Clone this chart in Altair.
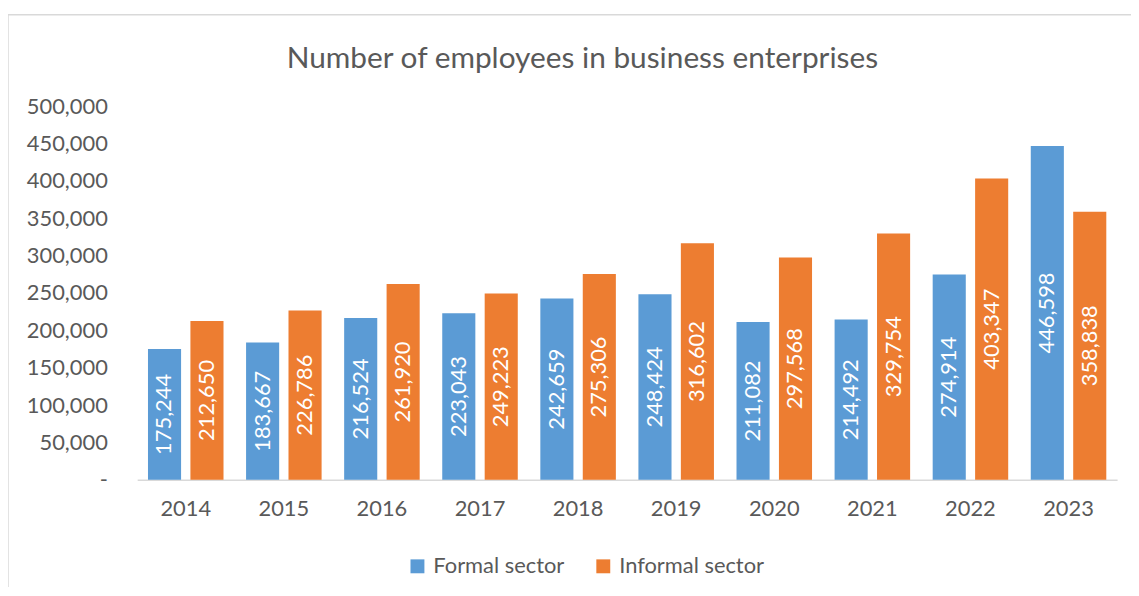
import altair as alt
import pandas as pd

years = [str(y) for y in range(2014, 2024)]
formal = [175244, 183667, 216524, 223043, 242659, 248424, 211082, 214492, 274914, 446598]
informal = [212650, 226786, 261920, 249223, 275306, 316602, 297568, 329754, 403347, 358838]
sectors = ["Formal sector", "Informal sector"]
colors = ["#5B9BD5", "#ED7D31"]
y_ticks = list(range(0, 500001, 50000))

rows = []
for y, f, i in zip(years, formal, informal):
    rows.append({"year": y, "sector": sectors[0], "value": f})
    rows.append({"year": y, "sector": sectors[1], "value": i})
df = pd.DataFrame(rows)

FONT = "Lato"
GREY = "#595959"
FS = 22

y_axis = alt.Axis(
    title=None, values=y_ticks, grid=False, domain=False, ticks=False, tickSize=0,
    labelPadding=30, labelFontSize=FS, labelColor=GREY, labelFont=FONT,
    labelOverlap=False,
    labelExpr="datum.value == 0 ? '-' : format(datum.value, ',')",
)
y_scale = alt.Scale(domain=[0, 500000], nice=False)

base = alt.Chart(df).encode(
    x=alt.X(
        "year:N",
        scale=alt.Scale(paddingInner=0.23, paddingOuter=0.11),
        axis=alt.Axis(
            title=None, labelAngle=0, ticks=False, tickSize=0,
            domainColor="#d9d9d9", domainWidth=1.5, labelPadding=19,
            labelFontSize=FS, labelColor=GREY, labelFont=FONT, labelBaseline="top",
        ),
    ),
    xOffset=alt.XOffset("sector:N", scale=alt.Scale(domain=sectors, paddingInner=0.22, paddingOuter=0)),
)

bars = base.mark_bar().encode(
    y=alt.Y("value:Q", scale=y_scale, axis=y_axis),
    color=alt.Color(
        "sector:N",
        scale=alt.Scale(domain=sectors, range=colors),
        legend=alt.Legend(
            title=None, orient="none", legendX=271, legendY=452, direction="horizontal",
            symbolType="square", symbolSize=196, symbolStrokeWidth=0,
            labelFontSize=FS, labelColor=GREY, labelFont=FONT, columnPadding=28, labelOffset=5,
        ),
    ),
)

labels = base.mark_text(
    color="white", angle=270, font=FONT, fontSize=FS, align="center", baseline="middle"
).encode(
    y=alt.Y("mid:Q", scale=y_scale, axis=y_axis),
    text=alt.Text("value:Q", format=","),
).transform_calculate(mid="datum.value / 2")

one = alt.Data(values=[{"a": 1}])
border_left = alt.Chart(one).mark_rule(color="#d9d9d9", strokeWidth=1.5).encode(
    x=alt.value(-130), y=alt.value(-92), y2=alt.value(500)
)
border_top = alt.Chart(one).mark_rule(color="#d9d9d9", strokeWidth=1.5).encode(
    x=alt.value(-130), x2=alt.value(1000), y=alt.value(-92)
)

chart = alt.layer(bars, labels, border_left, border_top).properties(
    width=986,
    height=376,
    padding={"left": 130, "top": 97, "right": 14, "bottom": 106},
    autosize=alt.AutoSizeParams(type="none"),
    title=alt.TitleParams(
        "Number of employees in business enterprises",
        font=FONT, fontSize=30, color=GREY, fontWeight="normal",
        anchor="middle", dx=-45, offset=-90, baseline="bottom",
    ),
).configure_view(stroke=None).configure_axisY(labelOverlap=False)

chart.save("out.html", embed_options={"renderer": "svg", "actions": False})
